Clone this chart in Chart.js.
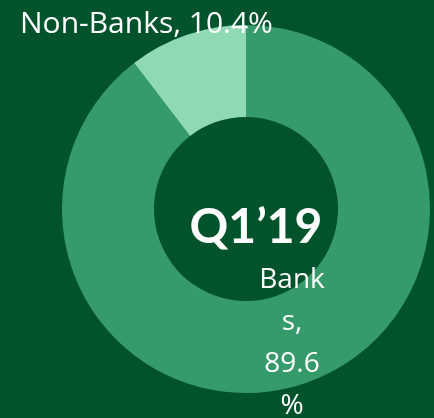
<!DOCTYPE html>
<html>
<head>
<meta charset="utf-8">
<script src="https://cdn.jsdelivr.net/npm/chart.js@4"></script>
<style>
  html, body { margin: 0; padding: 0; background: #00532a; }
  #wrap { width: 434px; height: 418px; }
</style>
</head>
<body>
<div id="wrap"><canvas id="shareChart" width="434" height="418"></canvas></div>
<script>
const categories = ['Banks', 'Non-Banks'];
const shares = [89.6, 10.4];
const sliceColors = ['#369b6a', '#8fdab4'];
const centerTitle = 'Q1\u201919';

const TITLE_FONT = 'Lato, "Open Sans", sans-serif';
const LABEL_FONT = '"Open Sans", sans-serif';

// labels + center text drawn on top of the arcs
const labelPlugin = {
    id: 'sliceLabels',
    afterDatasetsDraw(chart) {
        const ctx = chart.ctx;
        const arcs = chart.getDatasetMeta(0).data;
        const cx = arcs[0].x, cy = arcs[0].y;
        ctx.save();
        ctx.fillStyle = '#ffffff';

        ctx.font = 'bold 48px ' + TITLE_FONT;
        ctx.textAlign = 'center';
        ctx.textBaseline = 'alphabetic';
        ctx.fillText(centerTitle, cx + 10, cy + 34);

        ctx.font = '30px ' + LABEL_FONT;
        ctx.textAlign = 'left';
        ctx.fillText(categories[1] + ', ' + shares[1] + '%', 20, 33);

        // Banks label wraps in a narrow box
        const txt = categories[0] + ', ' + shares[0] + '%';
        const lines = [txt.slice(0, 4), txt.slice(4, 6), txt.slice(7, 11), txt.slice(11)];
        ctx.font = '28px ' + LABEL_FONT;
        ctx.textAlign = 'center';
        lines.forEach((ln, i) => ctx.fillText(ln, cx + 46, cy + 79 + i * 42));
        ctx.restore();
    }
};

new Chart(document.getElementById('shareChart'), {
    type: 'doughnut',
    data: {
        labels: categories,
        datasets: [{
            data: shares,
            backgroundColor: sliceColors,
            borderWidth: 0
        }]
    },
    options: {
        responsive: false,
        animation: false,
        cutout: '50%',
        layout: { padding: { top: 25, bottom: 25, left: 62, right: 4 } },
        plugins: {
            legend: { display: false },
            tooltip: { enabled: false }
        }
    },
    plugins: [labelPlugin]
});
</script>
</body>
</html>
